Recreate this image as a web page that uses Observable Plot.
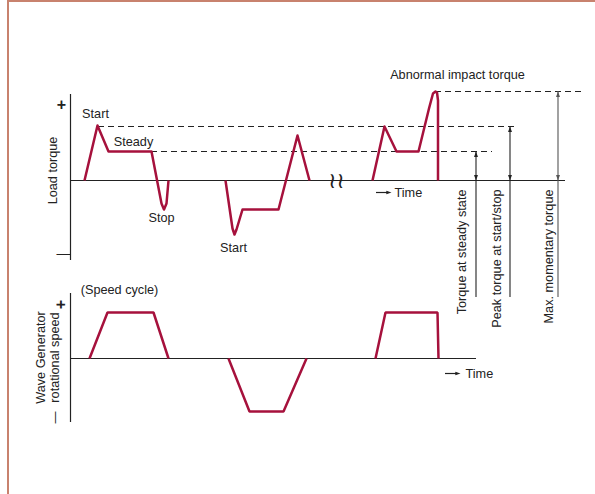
<!DOCTYPE html>
<html><head><meta charset="utf-8">
<script src="https://cdn.jsdelivr.net/npm/d3@7"></script>
<script src="https://cdn.jsdelivr.net/npm/@observablehq/plot@0.6"></script>
<style>
html,body{margin:0;padding:0;background:#fff;overflow:hidden}
#wrap{position:relative;width:595px;height:494px;overflow:hidden;background:#fff}
#frame{position:absolute;left:7px;top:0;width:700px;height:700px;border:2px solid #c8826e;box-sizing:border-box}
#wrap svg{position:absolute;left:0;top:0}
</style></head><body><div id="wrap"><div id="frame"></div></div>
<script>
// ---- data (time in arbitrary units, torque / speed in arbitrary units) ----
const torqueSeg1 = [[2.8,0],[5.4,5.5],[7.6,2.9],[16.2,2.9],[18.2,-2.3],[18.7,-2.9],[19.2,-2.3],[19.6,0]];
const torqueSeg2 = [[31,0],[32.4,-4.8],[32.8,-5.4],[33.2,-4.9],[34.4,-2.9],[41.6,-2.9],[45.4,4.5],[47.8,0]];
const torqueSeg3 = [[60.4,0],[62.8,5.4],[65.2,2.9],[69.6,2.9],[71.7,7.2],[72.5,8.7],[73.0,8.9],[73.3,8.8],[73.5,8.0],[73.5,0]];

const speedSeg1 = [[3.8,0],[7.4,4.6],[16.6,4.6],[19.6,0]];
const speedSeg2 = [[31.6,0],[35.8,-5.3],[42.6,-5.3],[47.2,0]];
const speedSeg3 = [[61,0],[63,4.6],[73.4,4.6],[73.6,0]];

const levelValues = [2.9, 5.4, 8.9];
const levelFrom   = [16.2, 5.6, 73.0];
const levelTo     = [84.4, 89.0, 103];
const arrowAt     = [81.1, 87.9, 97.5];
const levelLabels = ["Torque at steady state", "Peak torque at start/stop", "Max. momentary torque"];
const levelLabelAt = [78.3, 85.2, 95.6];
const levelLabelTop = -0.9;
const arrowBottom = -11.7;

const torqueNotes = ["Start", "Steady", "Stop", "Start", "Abnormal impact torque"];
const torqueNoteT = [5.0, 12.6, 18.2, 32.6, 77.4];
const torqueNoteV = [6.7, 3.9, -3.7, -6.7, 10.6];

const torqueAxisEnds = [8.6, -8.0];
const speedAxisEnds = [6.5, -6.4];
const torqueBaselineEnd = 99;
const speedBaselineEnd = 81.2;

// ---- helpers ----
const red = "#a6113c", ink = "#222", fs = 12.7;
const toRows = (segs) => segs.flatMap((s, i) => s.map(([t, v]) => ({seg: i, t, v})));
const tri = (pts) => ({draw(ctx, size) { const s = Math.sqrt(size / Math.PI); ctx.moveTo(0, 0); ctx.lineTo(pts[0]*s, pts[1]*s); ctx.lineTo(pts[2]*s, pts[3]*s); ctx.closePath(); }});
const tipUp = tri([-0.7, 2, 0.7, 2]);
const tipDown = tri([-0.7, -2, 0.7, -2]);
const tipRight = tri([-2, -0.7, -2, 0.7]);
const font = "'Liberation Sans', Arial, Helvetica, sans-serif";
const common = {
  width: 595, height: 494, marginLeft: 70, marginRight: 0,
  x: {domain: [0, 105], axis: null},
  y: {domain: [-10, 10], axis: null},
  style: {background: "transparent", overflow: "visible", fontFamily: font, fontSize: fs + "px", color: ink}
};

const levels = levelValues.map((v, i) => ({v, from: levelFrom[i], to: levelTo[i], at: arrowAt[i], label: levelLabels[i], lt: levelLabelAt[i], col: i === 2 ? "#555" : ink}));
const notes = torqueNotes.map((text, i) => ({text, t: torqueNoteT[i], v: torqueNoteV[i]}));

const topPlot = Plot.plot({
  ...common, marginTop: 80, marginBottom: 214,
  marks: [
    Plot.ruleY([0], {x1: 0, x2: torqueBaselineEnd, stroke: ink, strokeWidth: 1}),
    Plot.ruleX([0], {y1: torqueAxisEnds[0], y2: torqueAxisEnds[1], stroke: ink, strokeWidth: 1.2}),
    Plot.ruleY(levels, {y: "v", x1: "from", x2: "to", stroke: ink, strokeWidth: 1, strokeDasharray: "6,4"}),
    Plot.ruleX(levels, {x: "at", y1: arrowBottom, y2: "v", stroke: d => d.col, strokeWidth: 1.1}),
    Plot.dot(levels, {x: "at", y: "v", symbol: tipUp, r: 2.8, fill: d => d.col, stroke: null}),
    Plot.dot(levels, {x: "at", y: 0, symbol: tipDown, r: 2.8, fill: d => d.col, stroke: null}),
    Plot.text(levels, {x: "lt", y: levelLabelTop, text: "label", rotate: -90, textAnchor: "end", fill: ink, fontSize: fs}),
    Plot.line(toRows([torqueSeg1, torqueSeg2, torqueSeg3]), {x: "t", y: "v", z: "seg", stroke: red, strokeWidth: 2.5, strokeLinejoin: "round", strokeLinecap: "butt"}),
    Plot.text(notes, {x: "t", y: "v", text: "text", fill: ink, fontSize: fs}),
    Plot.text(["Load torque"], {x: -3.6, y: 1.0, text: d => d, rotate: -90, fill: ink, fontSize: fs}),
    Plot.text(["+"], {x: -1.8, y: 7.6, text: d => d, fill: ink, fontSize: 16, fontWeight: "bold"}),
    Plot.text(["—"], {x: -1.4, y: -7.3, text: d => d, fill: ink, fontSize: 14}),
    Plot.text(["≀≀"], {x: 53.2, y: 0, text: d => d, fill: ink, fontSize: 22, fontFamily: "DejaVu Sans", letterSpacing: -8}),
    Plot.ruleY([-1.2], {x1: 61.2, x2: 63.6, stroke: ink, strokeWidth: 1.2}),
    Plot.dot([-1.2], {x: 64.2, y: d => d, symbol: tipRight, r: 2.6, fill: ink, stroke: null}),
    Plot.text(["Time"], {x: 64.8, y: -1.2, text: d => d, textAnchor: "start", fill: ink, fontSize: fs})
  ]
});

const bottomPlot = Plot.plot({
  ...common, marginTop: 258, marginBottom: 36,
  marks: [
    Plot.ruleY([0], {x1: 0, x2: speedBaselineEnd, stroke: ink, strokeWidth: 1}),
    Plot.ruleX([0], {y1: speedAxisEnds[0], y2: speedAxisEnds[1], stroke: ink, strokeWidth: 1.2}),
    Plot.line(toRows([speedSeg1, speedSeg2, speedSeg3]), {x: "t", y: "v", z: "seg", stroke: red, strokeWidth: 2.5, strokeLinejoin: "miter", strokeLinecap: "butt"}),
    Plot.text(["(Speed cycle)"], {x: 9.8, y: 6.9, text: d => d, fill: ink, fontSize: fs}),
    Plot.text(["Wave Generator"], {x: -6.0, y: 0.1, text: d => d, rotate: -90, fill: ink, fontSize: fs}),
    Plot.text(["rotational speed"], {x: -3.2, y: 0.1, text: d => d, rotate: -90, fill: ink, fontSize: fs}),
    Plot.text(["+"], {x: -1.9, y: 5.4, text: d => d, rotate: -90, fill: ink, fontSize: 16, fontWeight: "bold"}),
    Plot.text(["—"], {x: -3.0, y: -5.9, text: d => d, rotate: -90, fill: ink, fontSize: 12}),
    Plot.ruleY([-1.5], {x1: 75, x2: 77.4, stroke: ink, strokeWidth: 1.2}),
    Plot.dot([-1.5], {x: 78, y: d => d, symbol: tipRight, r: 2.6, fill: ink, stroke: null}),
    Plot.text(["Time"], {x: 79, y: -1.5, text: d => d, textAnchor: "start", fill: ink, fontSize: fs})
  ]
});

const wrap = document.getElementById("wrap");
wrap.appendChild(topPlot);
wrap.appendChild(bottomPlot);
</script></body></html>
